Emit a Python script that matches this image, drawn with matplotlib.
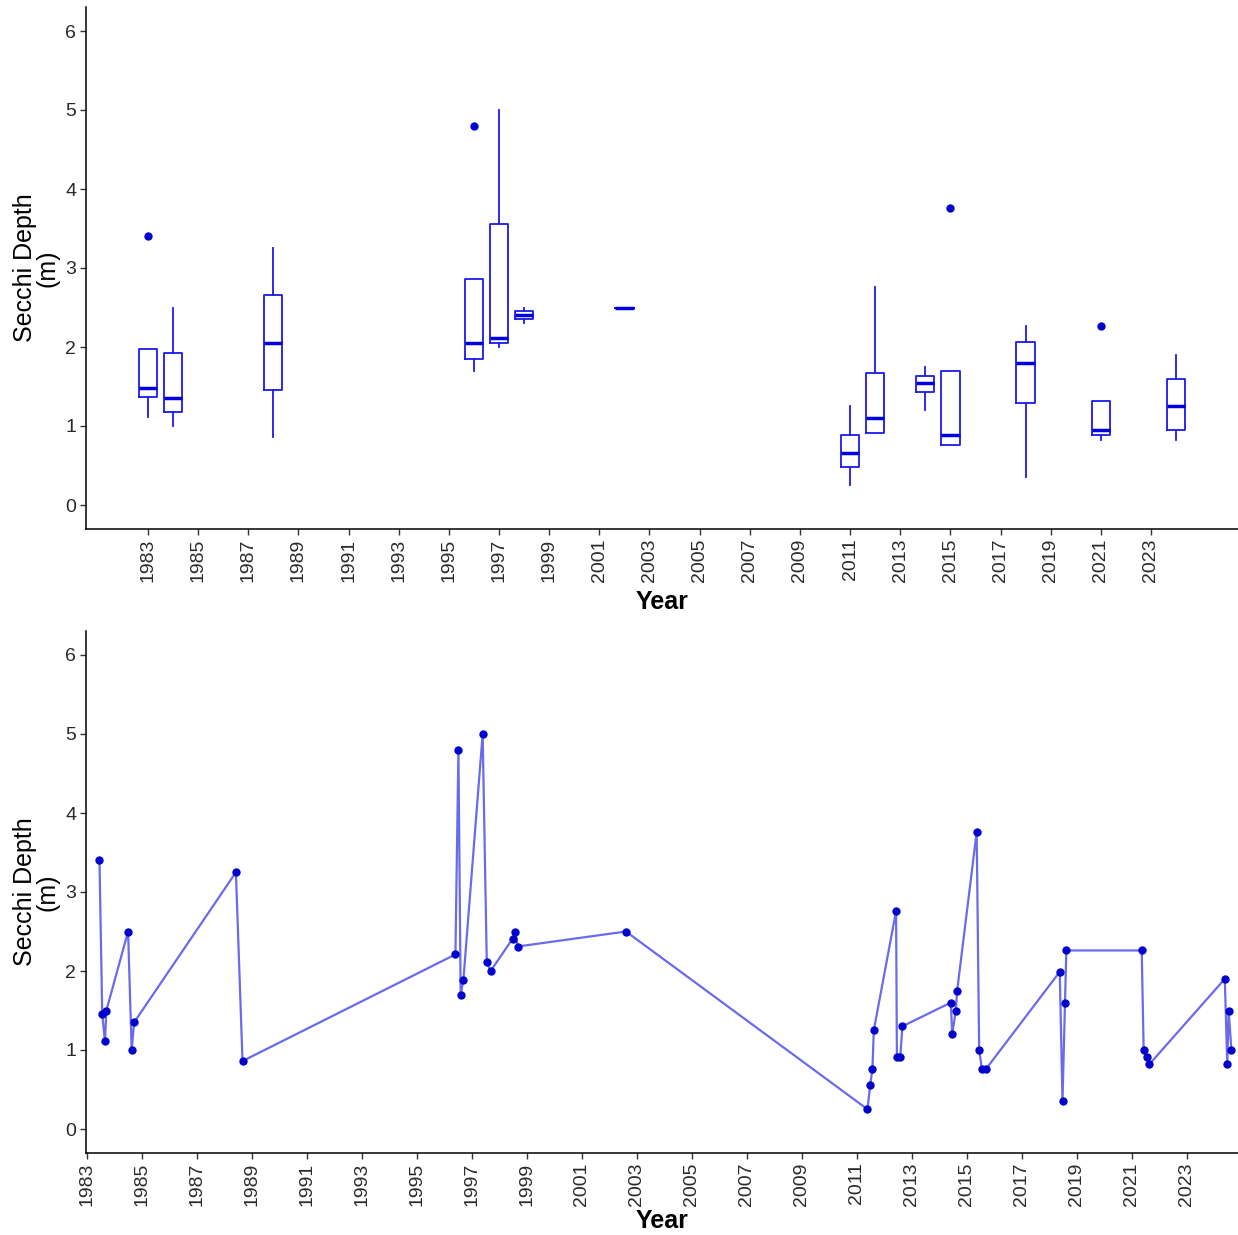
import numpy as np
import matplotlib
matplotlib.use('Agg')
import matplotlib.pyplot as plt

plt.rcParams['font.family'] = ['Liberation Sans', 'DejaVu Sans']

# sampling dates (decimal years) and secchi depth (m)
dates = [1983.47, 1983.57, 1983.67, 1983.72, 1984.51, 1984.64, 1984.73,
         1988.43, 1988.67, 1996.41, 1996.52, 1996.60, 1996.70, 1997.40,
         1997.55, 1997.69, 1998.49, 1998.59, 1998.67, 2002.61, 2011.39,
         2011.49, 2011.57, 2011.62, 2012.43, 2012.46, 2012.58, 2012.66,
         2014.42, 2014.47, 2014.60, 2014.65, 2015.36, 2015.45, 2015.55,
         2015.70, 2018.38, 2018.48, 2018.57, 2018.62, 2021.36, 2021.43,
         2021.54, 2021.64, 2024.38, 2024.47, 2024.52, 2024.62]
secchi = [3.40, 1.45, 1.11, 1.50, 2.50, 1.00, 1.35,
          3.25, 0.86, 2.21, 4.80, 1.70, 1.89, 5.00,
          2.11, 2.00, 2.41, 2.50, 2.31, 2.50, 0.25,
          0.56, 0.76, 1.25, 2.76, 0.91, 0.91, 1.30,
          1.60, 1.20, 1.50, 1.75, 3.76, 1.00, 0.76,
          0.76, 1.99, 0.35, 1.60, 2.26, 2.26, 1.00,
          0.91, 0.82, 1.90, 0.82, 1.50, 1.00]

year_ticks = list(range(1983, 2024, 2))
depth_ticks = [0, 1, 2, 3, 4, 5, 6]

dates = np.array(dates)
secchi = np.array(secchi)
years = np.floor(dates).astype(int)
box_years = sorted(set(years))
groups = [secchi[years == y] for y in box_years]

W, H = 1238, 1235
fig = plt.figure(figsize=(W / 100, H / 100), dpi=100)
ax1 = fig.add_axes([86 / W, 1 - 528.7 / H, (W - 86) / W, (528.7 - 7.3) / H])
ax2 = fig.add_axes([86 / W, 1 - 1152.7 / H, (W - 86) / W, (1152.7 - 631.3) / H])

line_kw = dict(color='#1a1aeb', linewidth=1.3)
ax1.boxplot(groups, positions=box_years, widths=0.73, whis=1.5,
            showcaps=False, manage_ticks=False,
            boxprops=line_kw, whiskerprops=line_kw,
            medianprops=dict(color='#0000e0', linewidth=2.5),
            flierprops=dict(marker='o', markersize=5, markerfacecolor='#0000cc',
                            markeredgecolor='#0000cc'))
ax1.set_xlim(1980.53, 2026.47)

ax2.plot(dates, secchi, color='#6a6aec', linewidth=1.6, zorder=2)
ax2.plot(dates, secchi, 'o', color='#0000cc', markersize=5, zorder=3)
ax2.set_xlim(1982.98, 2024.86)

for ax, pad in ((ax1, 6), (ax2, 2)):
    ax.set_ylim(-0.3, 6.3)
    ax.set_yticks(depth_ticks)
    ax.set_xticks(year_ticks)
    ax.set_xticklabels([str(y) for y in year_ticks], rotation=90)
    ax.spines['top'].set_visible(False)
    ax.spines['right'].set_visible(False)
    for s in ('left', 'bottom'):
        ax.spines[s].set_linewidth(1.1)
        ax.spines[s].set_color('black')
    ax.tick_params(axis='both', length=4, width=1.0, color='#333333',
                   labelsize=14, labelcolor='#2a2a2a', pad=3)
    ax.set_ylabel('Secchi Depth\n(m)', fontsize=18, linespacing=0.95, labelpad=4)
    ax.set_xlabel('Year', fontsize=18, fontweight='bold', labelpad=pad)

fig.savefig('out.png', dpi=100)
